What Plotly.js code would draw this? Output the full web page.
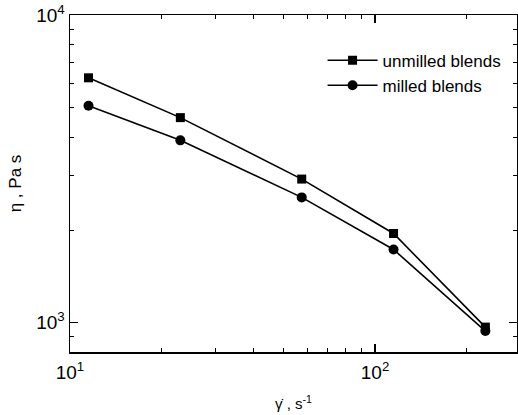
<!DOCTYPE html>
<html>
<head>
<meta charset="utf-8">
<script src="https://cdn.plot.ly/plotly-3.0.1.min.js"></script>
<style>html,body{margin:0;padding:0;background:#fff;}#chart{width:518px;height:415px;}</style>
</head>
<body>
<div id="chart"></div>
<script>
const shearRate = [11.5, 23, 57.5, 115, 230];
const unmilled = [6250, 4640, 2930, 1950, 968];
const milled = [5070, 3915, 2555, 1730, 940];
const xTickVals = [10, 100];
const xTickText = ['10<sup>1</sup>', '10<sup>2</sup>'];
const yTickVals = [1000, 10000];
const yTickText = ['10<sup>3</sup>', '10<sup>4</sup>'];
const xMinor = [20,30,40,50,60,70,80,90,200];
const yMinor = [900,2000,3000,4000,5000,6000,7000,8000,9000];

const traces = [
  {x: shearRate, y: unmilled, name: 'unmilled blends', mode: 'lines+markers', type: 'scatter',
   line: {color: '#000', width: 1.6}, marker: {symbol: 'square', size: 9, color: '#000'}},
  {x: shearRate, y: milled, name: 'milled blends', mode: 'lines+markers', type: 'scatter',
   line: {color: '#000', width: 1.6}, marker: {symbol: 'circle', size: 10, color: '#000'}}
];

const axisCommon = {
  showgrid: false, zeroline: false, showline: true, linecolor: '#000', linewidth: 1.5,
  mirror: 'allticks', ticks: 'inside', ticklen: 8, tickwidth: 1.3, tickcolor: '#000',
  tickmode: 'array', tickfont: {size: 19, color: '#000'}
};

const layout = {
  width: 518, height: 415,
  margin: {l: 70, r: 1, t: 15, b: 63},
  paper_bgcolor: '#fff', plot_bgcolor: '#fff',
  font: {family: 'Liberation Sans, Arial, sans-serif', size: 15, color: '#000'},
  showlegend: true,
  legend: {x: 0.565, y: 0.918, xanchor: 'left', yanchor: 'top', bgcolor: 'rgba(0,0,0,0)',
           font: {size: 17}, tracegroupgap: 0, itemwidth: 50},
  xaxis: Object.assign({}, axisCommon, {
    type: 'log', range: [1, Math.log10(292)],
    tickvals: xTickVals, ticktext: xTickText, ticklabelstandoff: 3,
    minor: {tickmode: 'array', tickvals: xMinor, ticks: 'inside', ticklen: 4, tickwidth: 1, tickcolor: '#000'},
    title: {text: 'γ̇ , s<sup>-1</sup>', font: {size: 15}, standoff: 16}
  }),
  yaxis: Object.assign({}, axisCommon, {
    type: 'log', range: [2.905, 4],
    tickvals: yTickVals, ticktext: yTickText,
    minor: {tickmode: 'array', tickvals: yMinor, ticks: 'inside', ticklen: 4, tickwidth: 1, tickcolor: '#000'},
    title: {text: 'η , Pa s', font: {size: 17}, standoff: 10}
  })
};

Plotly.newPlot('chart', traces, layout, {displayModeBar: false, staticPlot: true});
</script>
</body>
</html>
